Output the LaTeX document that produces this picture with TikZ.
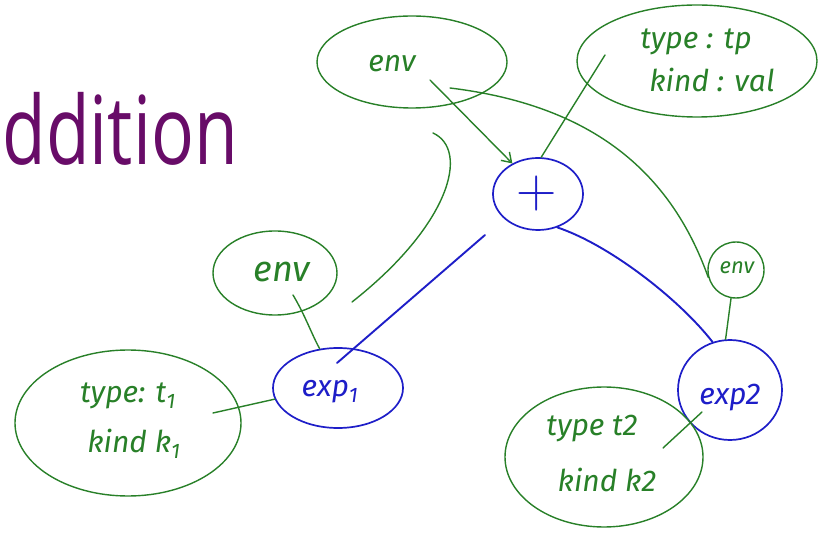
\documentclass[tikz,border=0pt]{standalone}
\usepackage{fontspec}
\usetikzlibrary{shapes.geometric,calc,arrows.meta}
\newfontfamily\titlefont{Open Sans}
\newfontfamily\handfont{Fira Sans}
\definecolor{inkgreen}{RGB}{40,128,40}
\definecolor{inkblue}{RGB}{30,30,200}
\definecolor{titlepurple}{RGB}{104,12,104}
\tikzset{
  gshape/.style={draw=inkgreen, line width=1.4pt, ellipse, inner sep=0pt},
  bshape/.style={draw=inkblue, line width=1.7pt, ellipse, inner sep=0pt},
  glabel/.style={text=inkgreen, inner sep=0pt, font=\handfont\itshape\fontsize{30}{34}\selectfont},
  blabel/.style={text=inkblue, inner sep=0pt, font=\handfont\itshape\fontsize{30}{34}\selectfont},
  gline/.style={draw=inkgreen, line width=1.4pt, line cap=round},
  bline/.style={draw=inkblue, line width=1.9pt, line cap=round},
}
\begin{document}
\begin{tikzpicture}[x=1pt,y=-1pt]
\useasboundingbox (0,0) rectangle (819,534);
\fill[white] (0,0) rectangle (819,534);
% title
\node[anchor=base east, text=titlepurple, font=\titlefont\fontsize{95}{100}\selectfont, inner sep=0pt, xscale=0.75] (title) at (238,165) {ddition};
% blue nodes
\node[bshape, minimum width=90pt, minimum height=72pt] (plus) at (538,194) {};
\node[blabel, font=\fontsize{56}{56}\selectfont] (plust) at (537,194) {+};
\node[bshape, minimum width=130pt, minimum height=80pt] (exp1) at (338,388) {};
\node[blabel] (exp1t) at (330,392) {exp\textsubscript{1}};
\node[bshape, minimum width=104pt, minimum height=100pt] (exp2) at (730,390) {};
\node[blabel] (exp2t) at (730,398) {exp2};
% green nodes
\node[gshape, minimum width=190pt, minimum height=92pt] (env0) at (412,62) {};
\node[glabel] (env0t) at (392,64) {env};
\node[gshape, minimum width=240pt, minimum height=112pt] (tp) at (697,61) {};
\node[glabel] (tpt1) at (696,42) {type : tp};
\node[glabel] (tpt2) at (712,80) {kind : val};
\node[gshape, minimum width=124pt, minimum height=84pt] (env1) at (275,273) {};
\node[glabel, font=\handfont\itshape\fontsize{36}{40}\selectfont] (env1t) at (282,272) {env};
\node[gshape, minimum width=226pt, minimum height=146pt] (t1) at (128,423) {};
\node[glabel] (t1t1) at (128,396) {type: t\textsubscript{1}};
\node[glabel] (t1t2) at (134,444) {kind k\textsubscript{1}};
\node[gshape, minimum width=56pt, minimum height=56pt] (env2) at (736,270) {};
\node[glabel, font=\handfont\itshape\fontsize{22}{26}\selectfont] (env2t) at (737,268) {env};
\node[gshape, minimum width=198pt, minimum height=140pt] (t2) at (604,457) {};
\node[glabel] (t2t1) at (592,429) {type t2};
\node[glabel] (t2t2) at (607,480) {kind k2};
% blue connectors
\draw[bline] ($(plus.center)+(-53,41)$) -- ($(exp1.center)+(-1,-25)$);
\draw[bline] (plus.-60) .. controls (610,245) and (680,300) .. (exp2.110);
% green connectors
\draw[gline, -{Straight Barb[length=9pt,width=12pt]}] ($(env0.center)+(18,18)$) -- (plus.130);
\draw[gline] ($(tp.center)+(-92,-6)$) -- (plus.85);
\draw[gline] ($(env0.center)+(38,26)$) .. controls (590,105) and (670,170) .. (env2.195);
\coordinate (free0) at (433,133);
\coordinate (free1) at (352,302);
\draw[gline] (free0) .. controls (470,150) and (450,225) .. (free1);
\draw[gline] ($(env1.center)+(18,22)$) .. controls (305,315) and (312,335) .. (exp1.115);
\draw[gline] ($(t1.center)+(85,-10)$) -- (exp1.190);
\draw[gline] (env2.-100) -- (exp2.95);
\draw[gline] ($(t2.center)+(59,-9)$) -- ($(exp2.center)+(-28,22)$);
\end{tikzpicture}
\end{document}
